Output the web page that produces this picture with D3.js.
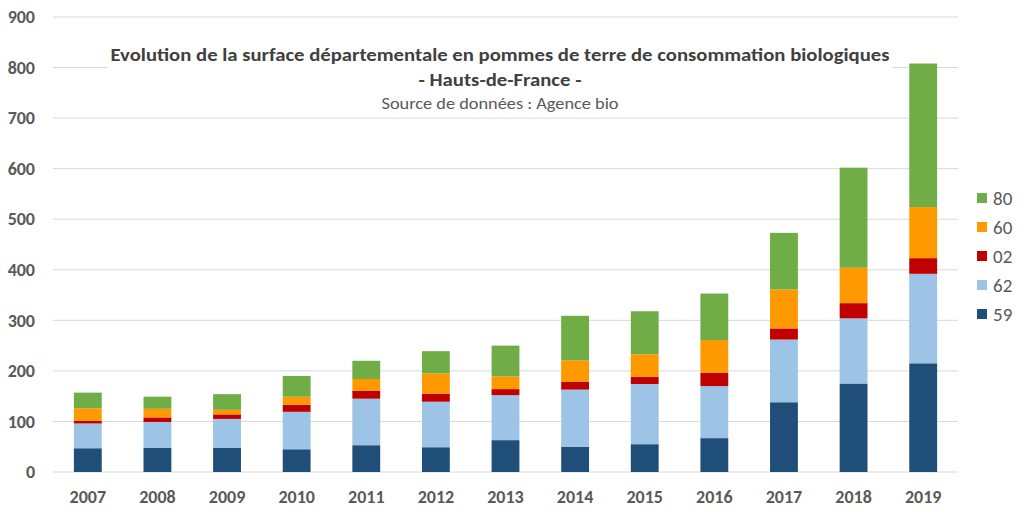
<!DOCTYPE html>
<html><head><meta charset="utf-8">
<script src="https://cdn.jsdelivr.net/npm/d3@7"></script>
<style>body{margin:0;background:#fff}svg{display:block}</style>
</head><body><svg id="c" width="1024" height="514"></svg>
<script>
const years = ["2007","2008","2009","2010","2011","2012","2013","2014","2015","2016","2017","2018","2019"];
const s59 = [47,48,48,45,53,49,63,50,55,67,138,175,215];
const s62 = [49,51,57,74,92,90,89,113,119,103,124,129,177];
const s02 = [5,9,9,14,16,16,12,15,14,26,22,30,31];
const s60 = [25,17,9,16,23,40,25,43,45,65,77,70,101];
const s80 = [31,24,31,41,36,44,61,88,85,92,112,198,284];
const seriesNames = ["59","62","02","60","80"];
const seriesColors = ["#1F4E79","#9DC3E6","#C00000","#FF9900","#70AD47"];
const yTicks = [0,100,200,300,400,500,600,700,800,900];
const titleLines = ["Evolution de la surface départementale en pommes de terre de consommation biologiques","- Hauts-de-France -"];
const subtitle = "Source de données : Agence bio";

const rows = years.map((y,i)=>({year:y,"59":s59[i],"62":s62[i],"02":s02[i],"60":s60[i],"80":s80[i]}));
const stack = d3.stack().keys(seriesNames)(rows);

const svg = d3.select("#c");
const font = "Calibri, Carlito, 'Open Sans', sans-serif";
const x = d3.scaleBand().domain(years).range([53,958]).paddingInner(0.6).paddingOuter(0.3);
const y = d3.scaleLinear().domain([0,900]).range([472,17]);

// gridlines
svg.append("g").selectAll("line").data(yTicks).join("line")
  .attr("x1",53).attr("x2",958).attr("y1",d=>y(d)).attr("y2",d=>y(d))
  .attr("stroke","#d9d9d9").attr("stroke-width",1);

// y axis labels
const yAxis = d3.axisLeft(y).tickValues(yTicks).tickSize(0).tickPadding(0);
const gy = svg.append("g").attr("transform","translate(35,0)").call(yAxis);
gy.select(".domain").remove();
gy.selectAll("text").attr("font-family",font).attr("font-weight","bold").attr("font-size",18).attr("fill","#595959");

// x axis labels
const xAxis = d3.axisBottom(x).tickSize(0).tickPadding(0);
const gx = svg.append("g").attr("transform","translate(0,490)").call(xAxis);
gx.select(".domain").remove();
gx.selectAll("text").attr("font-family",font).attr("font-weight","bold").attr("font-size",18).attr("fill","#595959");

// title box (white background)
svg.append("rect").attr("x",107).attr("y",35).attr("width",786).attr("height",78).attr("fill","#fff");

// bars
svg.append("g").selectAll("g").data(stack).join("g")
  .attr("fill",(d,i)=>seriesColors[i])
  .selectAll("rect").data(d=>d).join("rect")
  .attr("x",d=>x(d.data.year)).attr("width",x.bandwidth())
  .attr("y",d=>y(d[1])).attr("height",d=>y(d[0])-y(d[1]));

// titles
svg.append("text").attr("x",500).attr("y",61).attr("text-anchor","middle")
  .attr("font-family",font).attr("font-weight","bold").attr("font-size",18).attr("fill","#404040")
  .attr("textLength",779).attr("lengthAdjust","spacingAndGlyphs").text(titleLines[0]);
svg.append("text").attr("x",500).attr("y",86).attr("text-anchor","middle")
  .attr("font-family",font).attr("font-weight","bold").attr("font-size",18).attr("fill","#404040")
  .attr("textLength",163).attr("lengthAdjust","spacingAndGlyphs").text(titleLines[1]);
svg.append("text").attr("x",500).attr("y",109).attr("text-anchor","middle")
  .attr("font-family",font).attr("font-size",16).attr("fill","#595959")
  .attr("textLength",237).attr("lengthAdjust","spacingAndGlyphs").text(subtitle);

// legend
const legendOrder = [4,3,2,1,0];
const lg = svg.append("g").selectAll("g").data(legendOrder).join("g")
  .attr("transform",(d,i)=>`translate(977,${198+i*29})`);
lg.append("rect").attr("x",0).attr("y",-5).attr("width",10).attr("height",10).attr("fill",d=>seriesColors[d]);
lg.append("text").attr("x",16).attr("y",0).attr("dy","0.35em")
  .attr("font-family",font).attr("font-size",19).attr("fill","#595959").text(d=>seriesNames[d]);
</script></body></html>
